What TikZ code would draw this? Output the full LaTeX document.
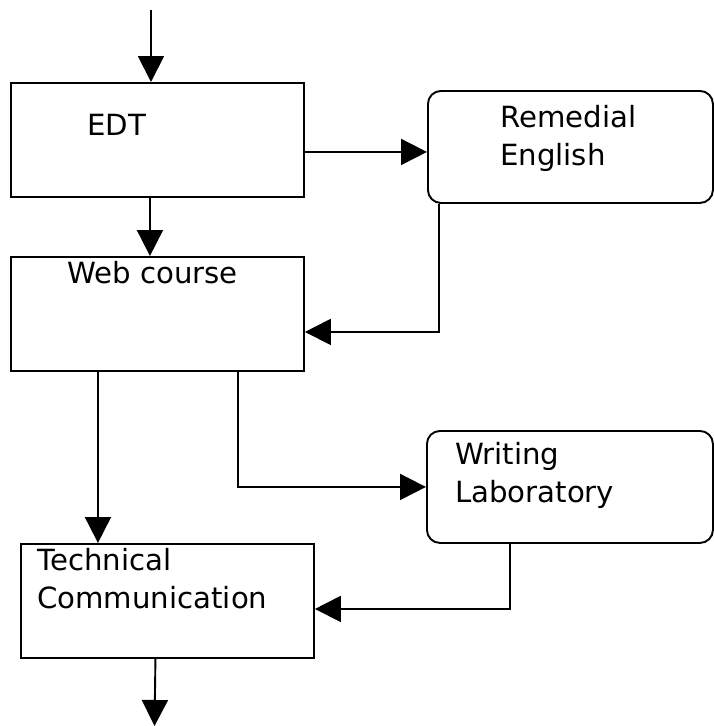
\documentclass[tikz,border=0pt]{standalone}
\usepackage{fontspec}
\setmainfont{DejaVu Sans}
\usetikzlibrary{arrows.meta}

\tikzset{
  caja/.style={draw, line width=1.9pt, inner sep=0pt, anchor=north west,
    minimum width=293pt, minimum height=114pt},
  cajaredonda/.style={caja, rounded corners=13pt, minimum width=285pt,
    minimum height=112pt},
  etiqueta/.style={anchor=base west, inner sep=0pt, align=left,
    font=\fontsize{29.2}{38}\selectfont},
  flecha/.style={line width=1.9pt, -{Triangle[length=26pt,width=26pt]}}
}

\begin{document}
\begin{tikzpicture}[x=1pt, y=-1pt]
        \useasboundingbox (0,0) rectangle (713,726);

        % Paso 1: Define las cajas del diagrama
        \node[caja] (edt) at (10,82) {};
        \node[cajaredonda] (rem) at (427,90) {};
        \node[caja] (web) at (10,256) {};
        \node[cajaredonda, minimum width=286pt] (wri) at (426,430) {};
        \node[caja] (tech) at (20,543) {};

        % Paso 2: Escribe los textos (base de la ultima linea)
        \node[etiqueta] (edtlbl) at (87,135) {EDT};
        \node[etiqueta] (remlbl) at (500,165) {Remedial\\English};
        \node[etiqueta] (weblbl) at (67,283) {Web course};
        \node[etiqueta] (wrilbl) at (455,502) {Writing\\Laboratory};
        \node[etiqueta] (techlbl) at (37,608) {Technical\\Communication};

        % Paso 3: Extremos libres de entrada y salida
        \coordinate (entrada) at (151,10);
        \coordinate (salida) at (154.5,726);

        % Paso 4: Dibuja las flechas
        \draw[flecha] (entrada) -- (entrada |- edt.north);
        \draw[flecha] ([yshift=-12pt]edt.east) -- ([yshift=-12pt]edt.east -| rem.west);
        \draw[flecha] ([xshift=-7.5pt]edt.south) -- ([xshift=-7.5pt]web.north);
        \draw[flecha] ([xshift=12pt]rem.south west) |- ([yshift=-18pt]web.east);
        \draw[line width=2.6pt] ([xshift=12pt,yshift=1pt]rem.south west) -- ([xshift=150pt,yshift=1pt]rem.south west);
        \draw[flecha] ([xshift=-59.5pt]web.south) -- ([xshift=-59.5pt]web.south |- tech.north);
        \draw[flecha] ([xshift=80.5pt]web.south) |- (wri.west);
        \draw[flecha] ([xshift=84pt]wri.south west) |- ([yshift=-8pt]tech.east);
        \draw[flecha] ([xshift=-12pt]tech.south) -- (salida);
    \end{tikzpicture}
\end{document}
